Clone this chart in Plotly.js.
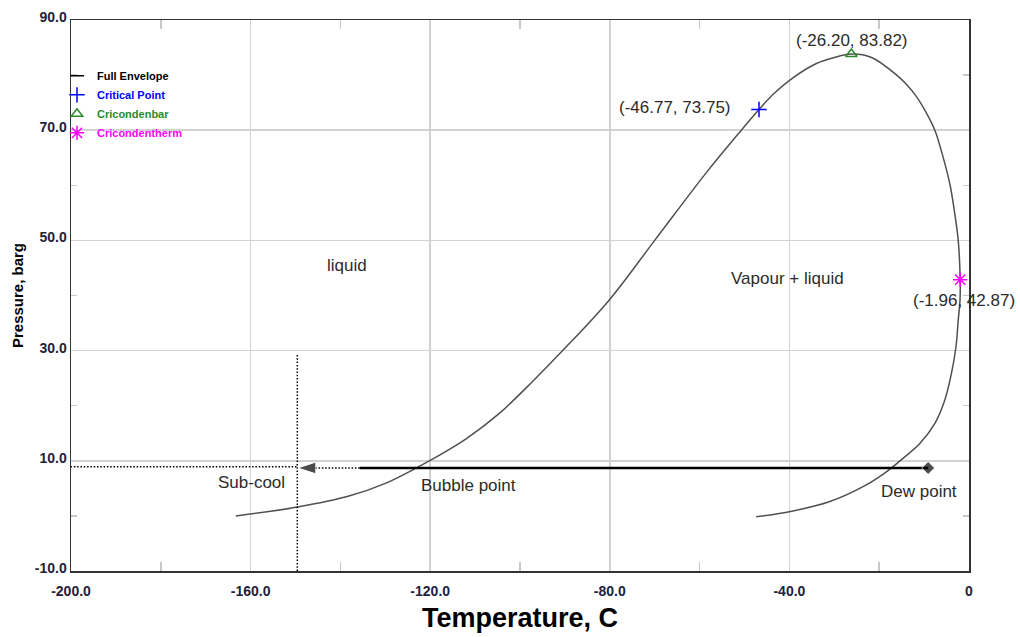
<!DOCTYPE html>
<html>
<head>
<meta charset="utf-8">
<script src="https://cdn.plot.ly/plotly-3.0.1.min.js"></script>
<style>
html,body{margin:0;padding:0;background:#fff;}
#chart{width:1020px;height:637px;}
</style>
</head>
<body>
<div id="chart"></div>
<script>
// ---- Phase envelope (temperature C, pressure barg) ----
var envelopeT = [-163.3, -149.6, -138.1, -130.0, -120.2, -112.0, -104.6, -97.2, -90.5, -80.1, -70.0, -58.5, -50.7, -46.77,
                 -43.5, -39.9, -34.0, -30.0, -26.2, -21.7, -16.1, -13.9, -11.7, -9.6, -7.6, -5.8, -4.2, -3.2, -2.4, -1.96,
                 -2.0, -2.4, -2.9, -3.9, -5.4, -7.6, -10.9, -14.7, -18.4, -23.6, -31.0, -40.0, -47.4];
var envelopeP = [0.0, 1.6, 3.6, 5.9, 10.0, 14.0, 18.6, 24.4, 30.0, 39.2, 50.0, 62.3, 70.0, 73.75,
                 76.6, 79.1, 82.1, 83.2, 83.82, 83.2, 80.0, 78.3, 76.1, 73.3, 70.0, 65.2, 60.0, 55.0, 50.0, 42.87,
                 39.2, 35.5, 30.7, 25.9, 21.0, 16.8, 13.2, 10.45, 8.0, 5.3, 2.6, 0.76, -0.15];

// ---- Key points ----
var criticalT = [-46.77],  criticalP = [73.75];
var cricondenbarT = [-26.20], cricondenbarP = [83.82];
var cricondenthermT = [-1.96], cricondenthermP = [42.87];

// ---- Hand-drawn process arrow (dew point -> sub-cooled) ----
var arrowSolidT = [-9.1, -135.7], arrowSolidP = [8.7, 8.7];
var arrowDotT = [-135.7, -149.5], arrowDotP = [8.7, 8.7];
var guideVT = [-149.6, -149.6], guideVP = [29.2, -14.9];
var guideHT = [-204.5, -149.6], guideHP = [8.9, 8.9];

// ---- Tick labels ----
var xTickVals = [-200, -160, -120, -80, -40, 0];
var xTickText = ['-200.0', '-160.0', '-120.0', '-80.0', '-40.0', '0'];
var xMinorVals = [-180, -140, -100, -60, -20];
var yTickVals = [-10, 10, 30, 50, 70, 90];
var yTickText = ['-10.0', '10.0', '30.0', '50.0', '70.0', '90.0'];
var yMinorVals = [0, 20, 40, 60, 80];

var FONT = 'Arial, "Liberation Sans", sans-serif';
var dotted = '1.5px,1.8px';

var traces = [
  { // legend proxy for the envelope line
    x: [null], y: [null], mode: 'markers', name: '<b>Full Envelope</b>',
    marker: {symbol: 'line-ew-open', size: 10, color: '#000', line: {color: '#000', width: 1.5}},
    hoverinfo: 'skip'
  },
  {
    x: envelopeT, y: envelopeP, mode: 'lines', showlegend: false,
    line: {color: '#505050', width: 1.5, shape: 'spline', smoothing: 1}
  },
  {
    x: guideVT, y: guideVP, mode: 'lines', showlegend: false, cliponaxis: false,
    line: {color: '#000', width: 1.5, dash: dotted}
  },
  {
    x: guideHT, y: guideHP, mode: 'lines', showlegend: false, cliponaxis: false,
    line: {color: '#000', width: 1.5, dash: dotted}
  },
  {
    x: arrowSolidT, y: arrowSolidP, mode: 'lines+markers', showlegend: false,
    line: {color: '#000', width: 2.5},
    marker: {symbol: ['diamond', 'circle'], size: [10, 0], color: '#000'}
  },
  {
    x: arrowDotT, y: arrowDotP, mode: 'lines+markers', showlegend: false,
    line: {color: '#000', width: 1.5, dash: dotted},
    marker: {symbol: 'arrow', angleref: 'previous', size: [0, 19], color: '#000'}
  },
  {
    x: criticalT, y: criticalP, mode: 'markers',
    name: '<b><span style="color:#0000ff">Critical Point</span></b>',
    marker: {symbol: 'cross-thin-open', size: 11, color: '#0000ff', line: {color: '#0000ff', width: 1.5}}
  },
  {
    x: cricondenbarT, y: cricondenbarP, mode: 'markers',
    name: '<b><span style="color:#2a8a2a">Cricondenbar</span></b>',
    marker: {symbol: 'triangle-up-open', size: 10, color: '#2a8a2a', line: {color: '#2a8a2a', width: 1.5}}
  },
  {
    x: cricondenthermT, y: cricondenthermP, mode: 'markers',
    name: '<b><span style="color:#ff00ff">Cricondentherm</span></b>',
    marker: {symbol: 'asterisk-open', size: 12, color: '#ff00ff', line: {color: '#ff00ff', width: 1.5}}
  }
];

var txt = {family: FONT, size: 17, color: '#2b2b2b'};
function note(x, y, text, extra) {
  var a = {x: x, y: y, xref: 'x', yref: 'y', text: text, showarrow: false, font: txt};
  for (var k in extra) a[k] = extra[k];
  return a;
}

var annotations = [
  note(cricondenbarT[0], cricondenbarP[0], '(-26.20, 83.82)', {yshift: 14, xshift: 1}),
  note(criticalT[0], criticalP[0], '(-46.77, 73.75)', {xanchor: 'right', xshift: -26, yshift: 2}),
  note(cricondenthermT[0], cricondenthermP[0], '(-1.96, 42.87)', {xshift: 4, yshift: -21}),
  note(1.9, 64.9, 'vapour'),
  note(-40.4, 43.0, 'Vapour + liquid'),
  note(-138.5, 45.5, 'liquid'),
  note(-159.9, 6.0, 'Sub-cool'),
  note(-111.5, 5.6, 'Bubble point'),
  note(-11.2, 4.5, 'Dew point'),
  note(-205.4, 6.6, '8.0'),
  note(-143.9, -12.5, '-147')
];

var tickFont = {family: FONT, size: 14, color: '#22223a', weight: 'bold'};

var layout = {
  width: 1020, height: 637,
  margin: {l: 71, r: 51, t: 20, b: 66, pad: 0},
  paper_bgcolor: '#fff', plot_bgcolor: '#fff',
  showlegend: true,
  legend: {
    x: -0.0156, y: 0.925, xanchor: 'left', yanchor: 'top',
    bgcolor: 'rgba(0,0,0,0)', borderwidth: 0,
    font: {family: FONT, size: 11, color: '#000'},
    tracegroupgap: 0
  },
  xaxis: {
    range: [-200, 0], autorange: false,
    tickmode: 'array', tickvals: xTickVals, ticktext: xTickText,
    ticks: '', showgrid: true, gridcolor: '#d2d2d2', gridwidth: 1.5,
    showline: true, linecolor: '#333', linewidth: 1.5, mirror: 'ticks',
    zeroline: false,
    tickfont: tickFont, ticklabelstandoff: 7,
    minor: {tickmode: 'array', tickvals: xMinorVals, ticks: 'inside', ticklen: 9, tickcolor: '#c8c8c8', tickwidth: 1.5, showgrid: false},
    title: {text: '<b>Temperature, C</b>', font: {family: FONT, size: 27, color: '#000'}, standoff: 10}
  },
  yaxis: {
    range: [-10, 90], autorange: false,
    tickmode: 'array', tickvals: yTickVals, ticktext: yTickText,
    ticks: '', showgrid: true, gridcolor: '#d2d2d2', gridwidth: 1.5,
    showline: true, linecolor: '#333', linewidth: 1.5, mirror: 'ticks',
    zeroline: false,
    tickfont: tickFont, ticklabelshift: -3, ticklabelstandoff: 0,
    minor: {tickmode: 'array', tickvals: yMinorVals, ticks: 'inside', ticklen: 6, tickcolor: '#c8c8c8', tickwidth: 1.5, showgrid: false},
    title: {text: '<b>Pressure, barg</b>', font: {family: FONT, size: 15, color: '#000'}, standoff: 7}
  },
  annotations: annotations
};

Plotly.newPlot('chart', traces, layout, {displayModeBar: false, staticPlot: true});
</script>
</body>
</html>
